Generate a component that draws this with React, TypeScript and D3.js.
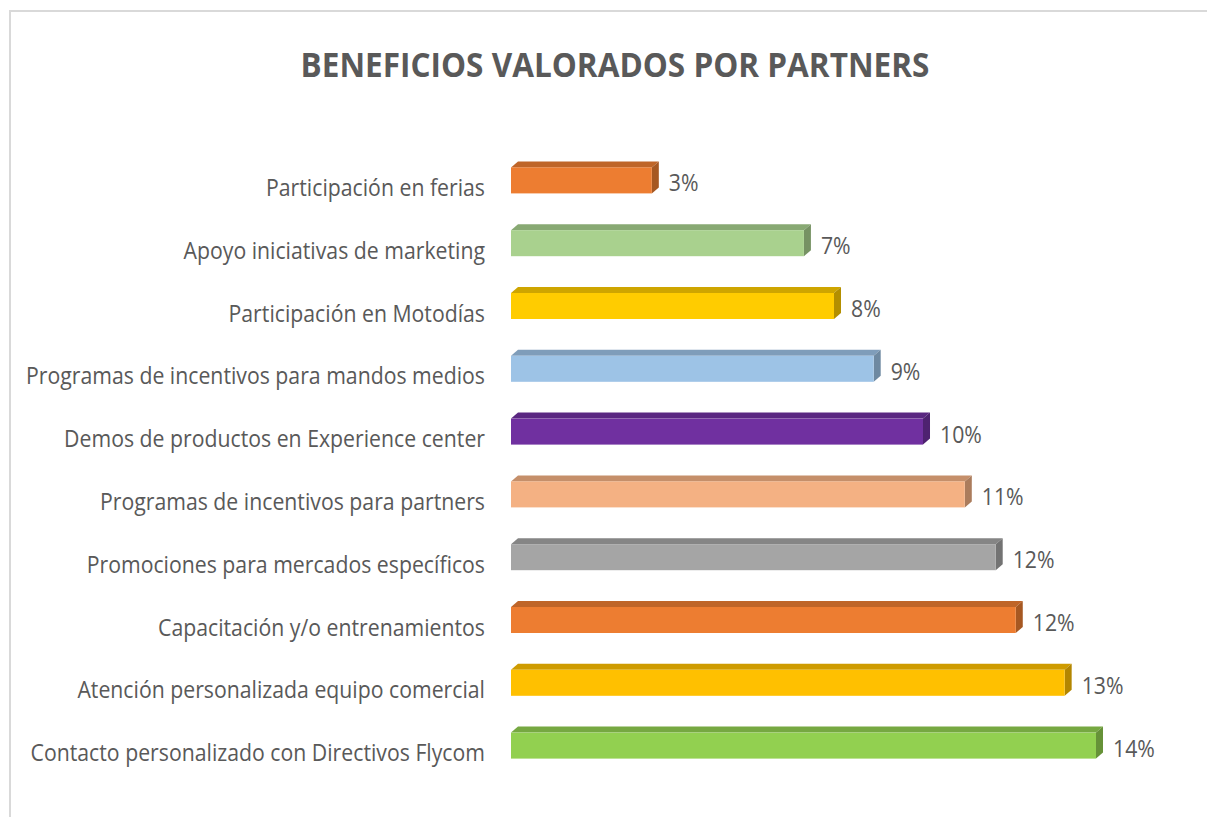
import React from "react";
import * as d3 from "d3";

const categories = [
  "Participación en ferias",
  "Apoyo iniciativas de marketing",
  "Participación en Motodías",
  "Programas de incentivos para mandos medios",
  "Demos de productos en Experience center",
  "Programas de incentivos para partners",
  "Promociones para mercados específicos",
  "Capacitación y/o entrenamientos",
  "Atención personalizada equipo comercial",
  "Contacto personalizado con Directivos Flycom",
];
const values = [3.37, 7.01, 7.73, 8.68, 9.86, 10.86, 11.6, 12.08, 13.25, 14.0];
const colors = [
  "#ED7D31", "#A9D18E", "#FFCC00", "#9DC3E6", "#7030A0",
  "#F4B183", "#A5A5A5", "#ED7D31", "#FFC000", "#92D050",
];
const title = "BENEFICIOS VALORADOS POR PARTNERS";

const W = 1207;
const H = 817;
const FONT = "'Open Sans', sans-serif";
const SX = 0.886;

export default function App() {
  const x = d3.scaleLinear().domain([0, 14]).range([511, 1096]);
  const y = d3.scaleBand().domain(categories).range([149, 777]).paddingInner(0.6).paddingOuter(0.3);
  const bh = 26;
  const dx = 7;
  const dy = -6;
  const fmt = (v: number) => `${Math.round(v)}%`;
  return (
    <svg width={W} height={H} style={{ position: "absolute", left: 0, top: 0, background: "#fff" }}>
      <rect x={10} y={11} width={W + 20} height={H + 20} fill="#fff" stroke="#d9d9d9" strokeWidth={2} />
      <text
        transform={`translate(615,77) scale(0.928,1)`}
        textAnchor="middle"
        fontFamily={FONT}
        fontWeight="bold"
        fontSize={34}
        fill="#595959"
      >
        {title}
      </text>
      {categories.map((c, i) => {
        const cy = (y(c) as number) + y.bandwidth() / 2;
        const top = cy - bh / 2;
        const x0 = x(0);
        const x1 = x(values[i]);
        const base = d3.color(colors[i])!;
        const topCol = base.darker(0.6).formatHex();
        const sideCol = base.darker(1.0).formatHex();
        return (
          <g key={c}>
            <polygon
              points={`${x0},${top} ${x0 + dx},${top + dy} ${x1 + dx},${top + dy} ${x1},${top}`}
              fill={topCol}
            />
            <polygon
              points={`${x1},${top} ${x1 + dx},${top + dy} ${x1 + dx},${top + bh + dy} ${x1},${top + bh}`}
              fill={sideCol}
            />
            <rect x={x0} y={top} width={x1 - x0} height={bh} fill={colors[i]} />
            <text
              transform={`translate(485,${cy + 15.5}) scale(${SX},1)`}
              textAnchor="end"
              fontFamily={FONT}
              fontSize={24}
              fill="#595959"
            >
              {c}
            </text>
            <text
              transform={`translate(${x1 + 17},${cy + 11}) scale(${SX},1)`}
              fontFamily={FONT}
              fontSize={24}
              fill="#595959"
            >
              {fmt(values[i])}
            </text>
          </g>
        );
      })}
    </svg>
  );
}
